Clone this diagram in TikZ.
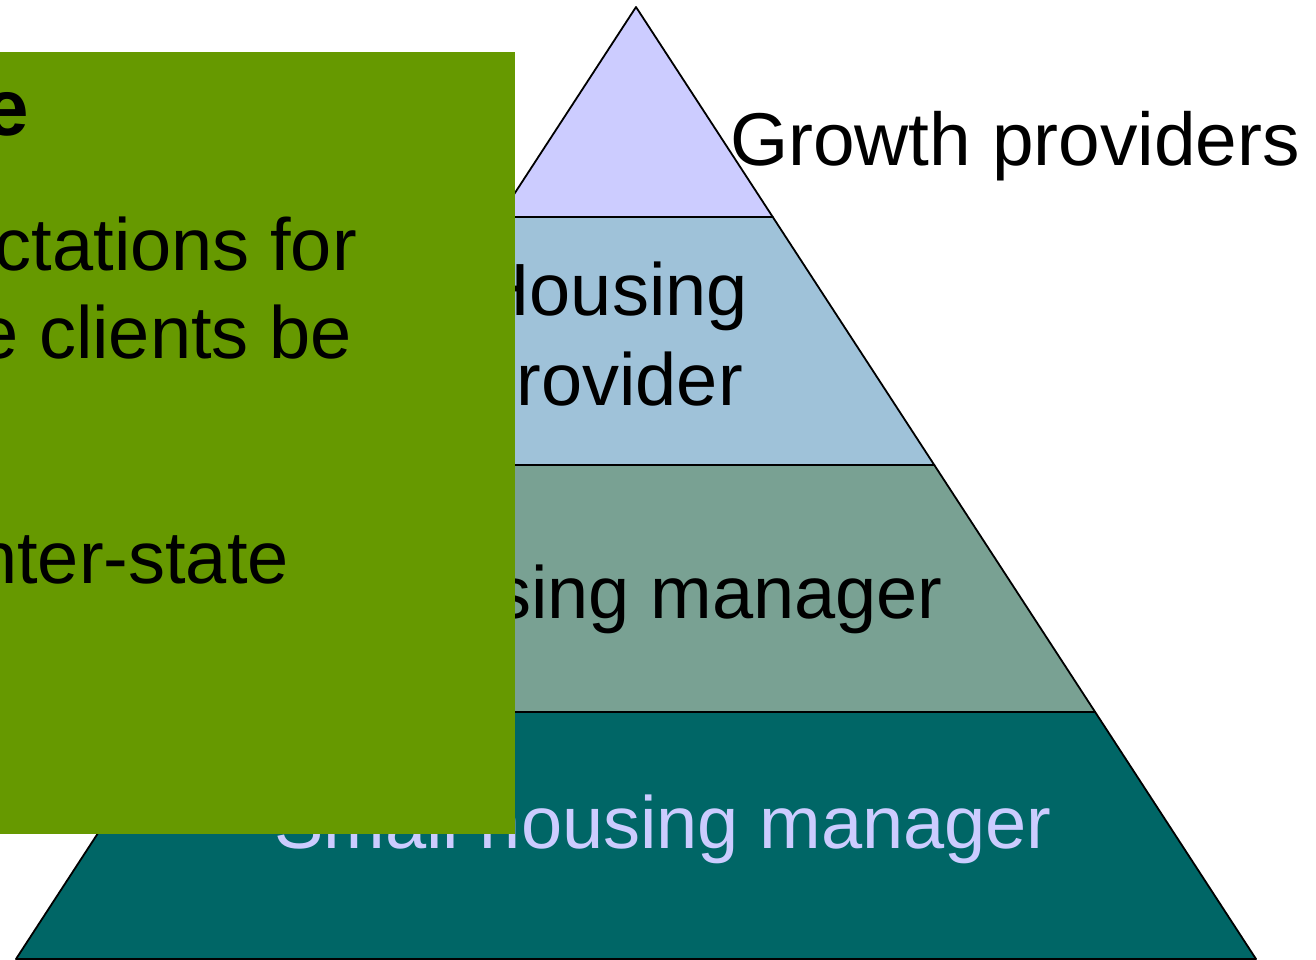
\documentclass[tikz,border=0pt]{standalone}
\usepackage{fontspec}
\setmainfont{Liberation Sans}
\usetikzlibrary{calc}
\definecolor{tierA}{HTML}{CCCCFF}
\definecolor{tierB}{HTML}{9FC2D9}
\definecolor{tierC}{HTML}{79A193}
\definecolor{tierD}{HTML}{006666}
\definecolor{boxgreen}{HTML}{669900}
\begin{document}
\begin{tikzpicture}[x=1pt,y=-1pt,
  tier/.style={draw=black,line width=1.8pt,line join=round},
  big/.style={inner sep=0pt,font=\fontsize{74}{88}\selectfont},
  bigbold/.style={inner sep=0pt,font=\fontsize{80}{90}\selectfont\bfseries}]
\useasboundingbox (0,0) rectangle (1316,959);
\clip (0,0) rectangle (1316,959);
\coordinate (apex) at (636,7);
\coordinate (bl) at (16,959);
\coordinate (br) at (1256,959);
\coordinate (l1) at ($(apex)!0.2206!(bl)$);
\coordinate (r1) at ($(apex)!0.2206!(br)$);
\coordinate (l2) at ($(apex)!0.4811!(bl)$);
\coordinate (r2) at ($(apex)!0.4811!(br)$);
\coordinate (l3) at ($(apex)!0.7405!(bl)$);
\coordinate (r3) at ($(apex)!0.7405!(br)$);
\draw[tier,fill=tierD] (l3) -- (r3) -- (br) -- (bl) -- cycle;
\draw[tier,fill=tierC] (l2) -- (r2) -- (r3) -- (l3) -- cycle;
\draw[tier,fill=tierB] (l1) -- (r1) -- (r2) -- (l2) -- cycle;
\draw[tier,fill=tierA] (apex) -- (r1) -- (l1) -- cycle;
\node[big,font=\fontsize{74.8}{88}\selectfont,anchor=base west] (growth) at (730,165) {Growth providers};
\node[big,anchor=base east] (hp1) at (748,315) {Housing};
\node[big,anchor=base east] (hp2) at (743,405) {provider};
\node[big,anchor=base east] (hm) at (943,618) {Housing manager};
\node[big,anchor=base east,text=tierA] (shm) at (1052,848) {Small housing manager};
\fill[boxgreen] (0,52) rectangle (515,834);
\node[bigbold,anchor=base east] (t0) at (29,135) {e};
\node[big,anchor=base east] (t1) at (357,270) {ctations for};
\node[big,anchor=base east] (t2) at (352,358) {e clients be};
\node[big,anchor=base east] (t3) at (289,583) {nter-state};
\end{tikzpicture}
\end{document}
